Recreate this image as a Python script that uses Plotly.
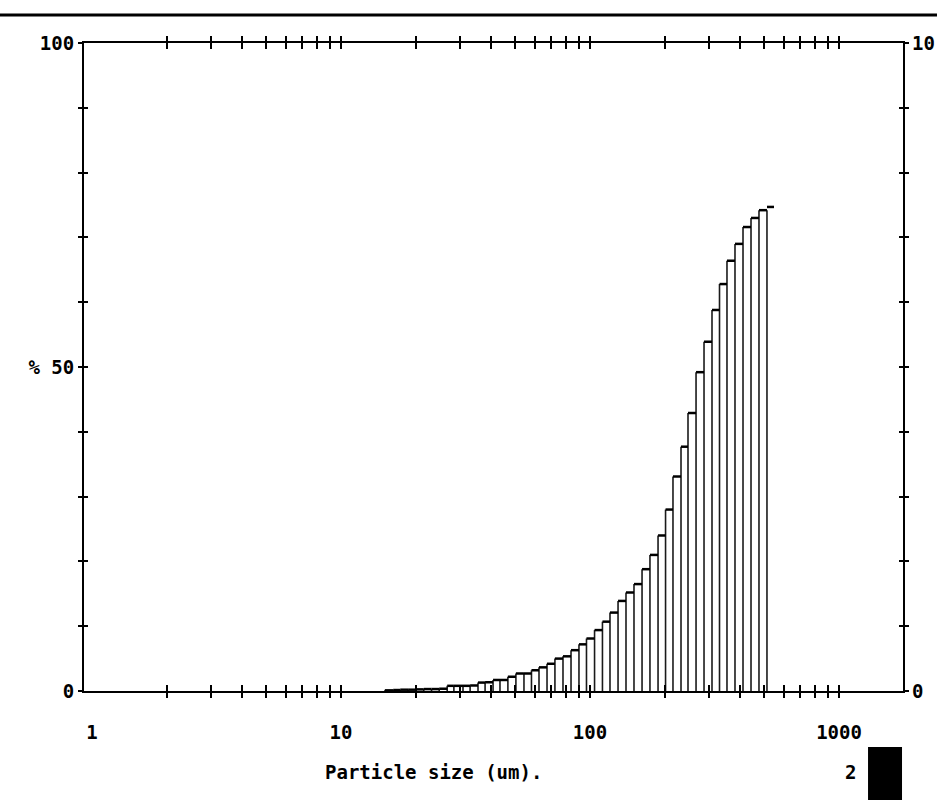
import plotly.graph_objects as go

# Size band edges (um)
band_edges = [15.0, 16.2, 17.3, 18.6, 20.0, 21.5, 23.1, 24.8, 26.7, 28.4, 30.9, 33.0,
              35.5, 37.9, 40.8, 43.5, 46.8, 50.4, 54.3, 58.2, 62.4, 67.2, 72.3, 77.9,
              83.9, 90.3, 96.8, 104.3, 112.2, 120.3, 129.6, 139.5, 150.2, 161.8, 174.1,
              187.6, 201.1, 215.4, 232.0, 247.5, 266.6, 287.0, 309.0, 331.2, 354.9,
              382.2, 411.6, 443.2, 477.1, 513.7, 548.3]
# Cumulative percent undersize per band
cum_pct = [0.1, 0.15, 0.2, 0.2, 0.25, 0.3, 0.3, 0.35, 0.8, 0.8, 0.8, 0.85, 1.3, 1.35,
           1.7, 1.7, 2.2, 2.7, 2.7, 3.2, 3.65, 4.2, 5.0, 5.35, 6.3, 7.2, 8.1, 9.4, 10.7,
           12.1, 13.9, 15.2, 16.5, 18.8, 21.0, 24.0, 28.0, 33.1, 37.7, 42.9, 49.2, 53.9,
           58.8, 62.8, 66.4, 69.0, 71.6, 73.0, 74.2, 74.7]

x_tick_labels = ["1", "10", "100", "1000"]
x_label_vals = [1, 10, 100, 1000]
x_minor_vals = [2, 3, 4, 5, 6, 7, 8, 9, 10, 20, 30, 40, 50, 60, 70, 80, 90, 100,
                200, 300, 400, 500, 600, 700, 800, 900, 1000]
y_tick_vals = [0, 10, 20, 30, 40, 50, 60, 70, 80, 90, 100]
y_left_text = ["0", "", "", "", "", "% 50", "", "", "", "", "100"]
y_right_vals = [0, 100]
y_right_text = ["0", "10"]

FONT = dict(family="DejaVu Sans Mono", size=19, color="black", weight="bold")

n = len(cum_pct)
# vertical lines (last band drawn as a top cap only)
vx, vy = [], []
for j in range(n):
    if j == 0:
        h = cum_pct[0]
    else:
        h = cum_pct[j - 1] if j == n - 1 else max(cum_pct[j - 1], cum_pct[j])
    vx += [band_edges[j], band_edges[j], None]
    vy += [0, h, None]
tx, ty = [], []
for i in range(n):
    tx += [band_edges[i], band_edges[i + 1], None]
    ty += [cum_pct[i], cum_pct[i], None]

fig = go.Figure()
fig.add_trace(go.Scatter(x=vx, y=vy, mode="lines", line=dict(color="#1a1a1a", width=1.6),
                         hoverinfo="skip", showlegend=False))
fig.add_trace(go.Scatter(x=tx, y=ty, mode="lines", line=dict(color="black", width=2.5),
                         hoverinfo="skip", showlegend=False))
# dummy traces to bind overlay axes
for xa, ya in [("x2", "y"), ("x3", "y"), ("x", "y2"), ("x", "y3")]:
    fig.add_trace(go.Scatter(x=[None], y=[None], xaxis=xa, yaxis=ya, mode="markers",
                             hoverinfo="skip", showlegend=False))

xr = [-0.0321, 3.257]
common_x = dict(type="log", range=xr, showgrid=False, zeroline=False, automargin=False)
fig.update_layout(
    template="none",
    width=937, height=810,
    margin=dict(l=84, r=34, t=43, b=119),
    paper_bgcolor="white", plot_bgcolor="white",
    font=FONT,
    xaxis=dict(**common_x, tickmode="array", tickvals=x_label_vals, ticktext=x_tick_labels,
               ticks="", showline=True, linecolor="black", linewidth=2, mirror=True,
               tickfont=FONT, ticklabelstandoff=23),
    xaxis2=dict(**common_x, overlaying="x", anchor="y", side="bottom", tickmode="array",
                tickvals=x_minor_vals, ticks="outside", ticklen=6, tickwidth=1.5,
                tickcolor="black", mirror="ticks", showticklabels=False, showline=False),
    xaxis3=dict(**common_x, overlaying="x", anchor="y", side="bottom", tickmode="array",
                tickvals=x_minor_vals, ticks="inside", ticklen=6, tickwidth=1.5,
                tickcolor="black", mirror="ticks", showticklabels=False, showline=False),
    yaxis=dict(range=[0, 100], tickmode="array", tickvals=y_tick_vals, ticktext=y_left_text,
               ticks="outside", ticklen=4, tickwidth=1.5, tickcolor="black",
               showline=True, linecolor="black", linewidth=2, mirror="ticks",
               showgrid=False, zeroline=False, tickfont=FONT, automargin=False),
    yaxis2=dict(range=[0, 100], overlaying="y", anchor="x", side="right", tickmode="array",
                tickvals=y_right_vals, ticktext=y_right_text, ticks="", showline=False,
                showgrid=False, zeroline=False, tickfont=FONT, ticklabelstandoff=8,
                automargin=False),
    yaxis3=dict(range=[0, 100], overlaying="y", anchor="x", side="left", tickmode="array",
                tickvals=y_tick_vals[1:-1], ticks="inside", ticklen=4, tickwidth=1.5,
                tickcolor="black", mirror="ticks", showticklabels=False, showline=False,
                showgrid=False, zeroline=False, automargin=False),
    shapes=[
        dict(type="line", xref="paper", yref="paper", x0=-0.1026, x1=1.0415,
             y0=1.0432, y1=1.0432, line=dict(color="black", width=3)),
        dict(type="rect", xref="paper", yref="paper", x0=0.9573, x1=0.9988,
             y0=-0.1682, y1=-0.0864, fillcolor="black", line=dict(width=0)),
    ],
    annotations=[
        dict(text="Particle size (um).", xref="paper", yref="paper", x=0.4267, y=-0.125,
             xanchor="center", yanchor="middle", showarrow=False, font=FONT),
        dict(text="2", xref="paper", yref="paper", x=0.9365, y=-0.125,
             xanchor="center", yanchor="middle", showarrow=False, font=FONT),
    ],
)

fig.write_html("out.html", config={"displayModeBar": False},
               post_script="document.body.style.margin='0';")
